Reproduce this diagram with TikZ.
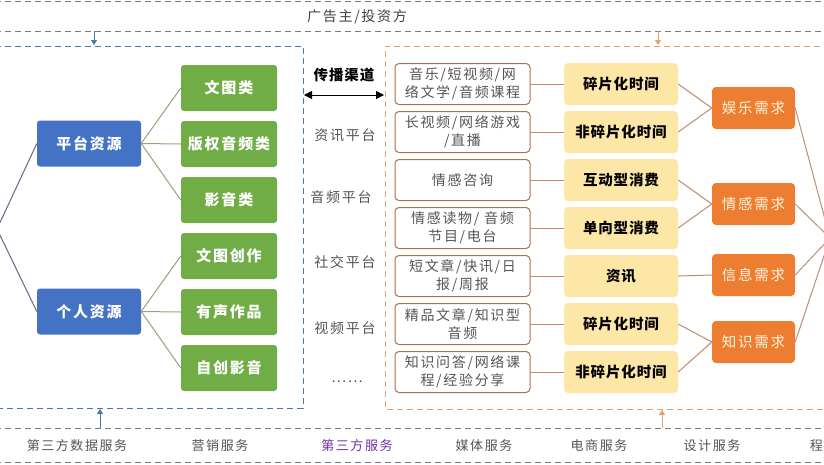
\documentclass[tikz,border=0pt]{standalone}
\usepackage{fontspec}
\setmainfont{Noto Sans CJK SC}[LetterSpace=12]
\newfontfamily\cjkbold{Noto Sans CJK SC}[LetterSpace=6]
\XeTeXlinebreaklocale "zh"
\usetikzlibrary{arrows.meta}
\definecolor{bluec}{HTML}{4472C4}
\definecolor{greenc}{HTML}{70AD47}
\definecolor{orangec}{HTML}{ED7D31}
\definecolor{yellowc}{HTML}{FDE7A6}
\definecolor{brownc}{HTML}{B0704A}
\definecolor{linkc}{HTML}{C08A6A}
\definecolor{olivec}{HTML}{9AA07A}
\definecolor{slatec}{HTML}{5E6A86}
\definecolor{dashblue}{HTML}{4A78A8}
\definecolor{dashorange}{HTML}{E8A070}
\definecolor{dashgray}{HTML}{7A7A7A}
\definecolor{txtc}{HTML}{555555}
\definecolor{purplec}{HTML}{7030A0}
\definecolor{creamc}{HTML}{FFF4DC}
\tikzset{
  blueb/.style={fill=bluec, rounded corners=3pt, minimum width=104pt, minimum height=46pt, inner sep=0pt, text=white, font=\fontsize{15}{18}\selectfont\bfseries},
  greenb/.style={fill=greenc, rounded corners=3pt, minimum width=96pt, minimum height=46pt, inner sep=0pt, text=white, font=\fontsize{15}{18}\selectfont\bfseries},
  contentb/.style={draw=brownc, line width=1pt, fill=white, rounded corners=4pt, minimum width=135pt, minimum height=41pt, inner sep=0pt, align=center, text=txtc, font=\fontsize{14}{17.5}\selectfont},
  yellowb/.style={fill=yellowc, rounded corners=4pt, minimum width=114pt, minimum height=42pt, inner sep=0pt, text=black, font=\fontsize{14.5}{17}\selectfont\cjkbold\bfseries},
  orangeb/.style={fill=orangec, rounded corners=4pt, minimum width=83pt, minimum height=42pt, inner sep=0pt, text=creamc, font=\fontsize{14.5}{17}\selectfont},
  midlabel/.style={text=txtc, font=\fontsize{14}{16}\selectfont, inner sep=0pt},
  botlabel/.style={text=txtc, font=\fontsize{13}{16}\selectfont, inner sep=0pt},
  gline/.style={draw=dashgray, dash pattern=on 6pt off 4pt, line width=0.9pt},
  bline/.style={draw=dashblue, dash pattern=on 6pt off 4pt, line width=0.9pt},
  oline/.style={draw=dashorange, dash pattern=on 6pt off 4pt, line width=0.9pt},
  olink/.style={draw=olivec, line width=1pt},
  slink/.style={draw=slatec, line width=1pt},
  blink/.style={draw=linkc, line width=1pt},
}
\begin{document}
\begin{tikzpicture}[x=1pt,y=-1pt]
\useasboundingbox (0,0) rectangle (824,464);
\fill[white] (0,0) rectangle (824,464);

% top band
\draw[gline] (-5,1.5) -- (830,1.5);
\draw[gline] (-5,31) -- (830,31);
\node[midlabel, text=black!75] (adv) at (357,17) {广告主/投资方};

% bottom band
\draw[gline] (-5,428) -- (830,428);
\draw[gline] (-5,462) -- (830,462);
\node[botlabel] (b1) at (77,446) {第三方数据服务};
\node[botlabel] (b2) at (220,446) {营销服务};
\node[botlabel, text=purplec] (b3) at (357,446) {第三方服务};
\node[botlabel] (b4) at (484,446) {媒体服务};
\node[botlabel] (b5) at (599,446) {电商服务};
\node[botlabel] (b6) at (712,446) {设计服务};
\node[botlabel, anchor=east] (b7) at (823,446) {程};

% dashed boxes
\draw[bline] (-5,46) -- (303,46) -- (303,408) -- (-5,408);
\draw[oline] (830,46) -- (385,46) -- (385,409) -- (830,409);

% vertical arrows
\coordinate (ta1) at (94,31); \coordinate (ta2) at (94,45);
\coordinate (ta3) at (658,31); \coordinate (ta4) at (658,45);
\coordinate (ba1) at (100,428); \coordinate (ba2) at (100,409);
\coordinate (ba3) at (662,428); \coordinate (ba4) at (662,410);
\draw[dashblue, line width=1pt, -{Triangle[length=5pt,width=6pt]}] (ta1) -- (ta2);
\draw[dashorange, line width=1pt, -{Triangle[length=5pt,width=6pt]}] (ta3) -- (ta4);
\draw[dashblue, line width=1pt, -{Triangle[length=5pt,width=6pt]}] (ba1) -- (ba2);
\draw[dashorange, line width=1pt, -{Triangle[length=5pt,width=6pt]}] (ba3) -- (ba4);

% left side
\coordinate (L) at (-3,229);
\node[blueb] (pt) at (89,143.5) {平台资源};
\node[blueb] (gr) at (89,311.5) {个人资源};
\node[greenb] (g1) at (229,88) {文图类};
\node[greenb] (g2) at (229,144) {版权音频类};
\node[greenb] (g3) at (229,200) {影音类};
\node[greenb] (g4) at (229,256) {文图创作};
\node[greenb] (g5) at (229,312) {有声作品};
\node[greenb] (g6) at (229,368) {自创影音};
\draw[slink] (L) -- (pt.west);
\draw[slink] (L) -- (gr.west);
\foreach \g in {g1,g2,g3} \draw[olink] (pt.east) -- (\g.west);
\foreach \g in {g4,g5,g6} \draw[olink] (gr.east) -- (\g.west);

% middle
\node[font=\fontsize{14.5}{16}\selectfont\cjkbold\bfseries, text=black, inner sep=0pt] (chan) at (344,75) {传播渠道};
\coordinate (dl) at (304,95); \coordinate (dr) at (384,95);
\draw[black, line width=1pt, {Triangle[length=8pt,width=8pt]}-{Triangle[length=8pt,width=8pt]}] (dl) -- (dr);
\node[midlabel] (m1) at (345,135) {资讯平台};
\node[midlabel] (m2) at (341,197) {音频平台};
\node[midlabel] (m3) at (345,262) {社交平台};
\node[midlabel] (m4) at (345,328) {视频平台};
\node[midlabel] (m5) at (347,382) {……};

% content boxes
\node[contentb] (c1) at (462.5,84) {音乐/短视频/网\\络文学/音频课程};
\node[contentb] (c2) at (462.5,132) {长视频/网络游戏\\/直播};
\node[contentb] (c3) at (462.5,180) {情感咨询};
\node[contentb] (c4) at (462.5,228) {情感读物/ 音频\\节目/电台};
\node[contentb] (c5) at (462.5,276) {短文章/快讯/日\\报/周报};
\node[contentb] (c6) at (462.5,324) {精品文章/知识型\\音频};
\node[contentb] (c7) at (462.5,372) {知识问答/网络课\\程/经验分享};

% yellow boxes
\node[yellowb] (y1) at (621,84) {碎片化时间};
\node[yellowb] (y2) at (621,132) {非碎片化时间};
\node[yellowb] (y3) at (621,180) {互动型消费};
\node[yellowb] (y4) at (621,228) {单向型消费};
\node[yellowb] (y5) at (621,276) {资讯};
\node[yellowb] (y6) at (621,324) {碎片化时间};
\node[yellowb] (y7) at (621,372) {非碎片化时间};
\foreach \i in {1,...,7} \draw[blink] (c\i.east) -- (y\i.west);

% orange boxes
\node[orangeb] (o1) at (753.5,108) {娱乐需求};
\node[orangeb] (o2) at (753.5,204) {情感需求};
\node[orangeb] (o3) at (753.5,275) {信息需求};
\node[orangeb] (o4) at (753.5,342) {知识需求};
\draw[blink] (y1.east) -- (o1.west);
\draw[blink] (y2.east) -- (o1.west);
\draw[blink] (y3.east) -- (o2.west);
\draw[blink] (y4.east) -- (o2.west);
\draw[blink] (y5.east) -- (o3.west);
\draw[blink] (y6.east) -- (o4.west);
\draw[blink] (y7.east) -- (o4.west);

% right convergence
\coordinate (R) at (830,238);
\foreach \o in {o1,o2,o3,o4} \draw[draw=brownc!80, line width=1pt] (\o.east) -- (R);
\end{tikzpicture}
\end{document}
